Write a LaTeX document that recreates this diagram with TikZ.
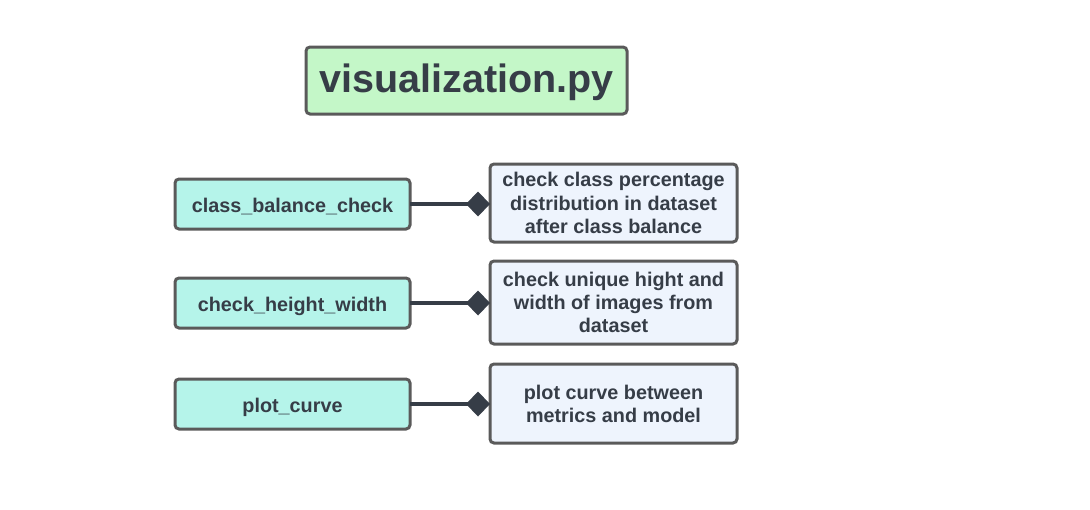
\documentclass[tikz,border=0pt]{standalone}
\usepackage{fontspec}
\setmainfont{Liberation Sans}
\usetikzlibrary{arrows.meta}
\definecolor{txt}{HTML}{363D47}
\definecolor{bord}{HTML}{5A5A5A}
\definecolor{titlefill}{HTML}{C4F7C8}
\definecolor{funcfill}{HTML}{B5F4EA}
\definecolor{descfill}{HTML}{EEF4FD}
\tikzset{
  box/.style={draw=bord, line width=3pt, rounded corners=4pt, outer sep=0pt,
    text=txt, align=center, inner sep=2pt},
  titlebox/.style={box, fill=titlefill, minimum width=321pt, minimum height=67pt,
    text height=32pt, text depth=8pt,
    font=\fontsize{39.5}{44}\selectfont\bfseries},
  funcbox/.style={box, fill=funcfill, minimum width=235pt, minimum height=50pt,
    text height=17pt, text depth=0pt,
    font=\fontsize{19.8}{23.3}\selectfont\bfseries},
  descbox/.style={box, fill=descfill, minimum width=247pt, text depth=-4pt,
    font=\fontsize{19.8}{23.3}\selectfont\bfseries},
  link/.style={draw=txt, line width=3.5pt, -{Diamond[length=24pt,width=25pt]}}
}
\begin{document}
\begin{tikzpicture}[x=1pt,y=-1pt]
\useasboundingbox (0,0) rectangle (1090,509);
\node[titlebox] (title) at (466.5,80.5) {visualization.py};
\node[funcbox] (f1) at (292.5,204) {class\_balance\_check};
\node[funcbox] (f2) at (292.5,303) {check\_height\_width};
\node[funcbox] (f3) at (292.5,404) {plot\_curve};
\node[descbox, minimum height=78pt] (d1) at (613.5,203) {check class percentage\\distribution in dataset\\after class balance};
\node[descbox, minimum height=83pt] (d2) at (613.5,302.5) {check unique hight and\\width of images from\\dataset};
\node[descbox, minimum height=79pt] (d3) at (613.5,403.5) {plot curve between\\metrics and model};
\draw[link] (f1.east) -- (f1.east -| d1.west);
\draw[link] (f2.east) -- (f2.east -| d2.west);
\draw[link] (f3.east) -- (f3.east -| d3.west);
\end{tikzpicture}
\end{document}
